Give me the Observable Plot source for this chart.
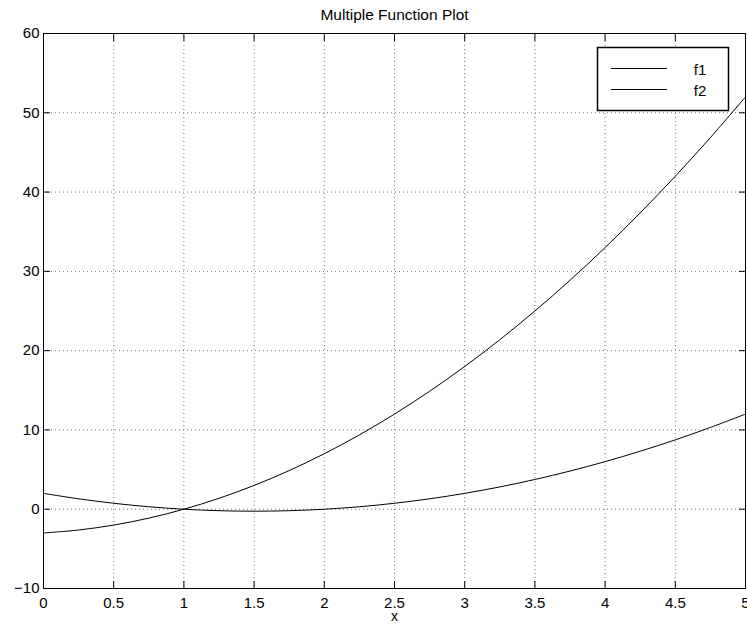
<!DOCTYPE html>
<html>
<head>
<meta charset="utf-8">
<script src="https://cdn.jsdelivr.net/npm/d3@7"></script>
<script src="https://cdn.jsdelivr.net/npm/@observablehq/plot@0.6"></script>
<style>
  html, body { margin: 0; padding: 0; background: #fff; }
  #chart { position: relative; width: 747px; height: 626px; }
  svg { font-family: "Liberation Sans", Arial, Helvetica, sans-serif; }
</style>
</head>
<body>
<div id="chart"></div>
<script>
const title = "Multiple Function Plot";
const xLabel = "x";
const seriesNames = ["f1", "f2"];
const xs = [0, 0.25, 0.5, 0.75, 1, 1.25, 1.5, 1.75, 2, 2.25, 2.5, 2.75, 3, 3.25, 3.5, 3.75, 4, 4.25, 4.5, 4.75, 5];
const f1 = [2, 1.3125, 0.75, 0.3125, 0, -0.1875, -0.25, -0.1875, 0, 0.3125, 0.75, 1.3125, 2, 2.8125, 3.75, 4.8125, 6, 7.3125, 8.75, 10.3125, 12];
const f2 = [-3, -2.625, -2, -1.125, 0, 1.375, 3, 4.875, 7, 9.375, 12, 14.875, 18, 21.375, 25, 28.875, 33, 37.375, 42, 46.875, 52];
const xTicks = [0, 0.5, 1, 1.5, 2, 2.5, 3, 3.5, 4, 4.5, 5];
const yTicks = [-10, 0, 10, 20, 30, 40, 50, 60];

const data = [];
xs.forEach((x, i) => {
  data.push({series: "f1", x, y: f1[i]});
  data.push({series: "f2", x, y: f2[i]});
});

const noLabel = () => "";
const fmt = d => (d < 0 ? "\u2212" + Math.abs(d) : String(d));
const plot = Plot.plot({
  width: 747,
  height: 626,
  marginTop: 33,
  marginBottom: 38,
  marginLeft: 43,
  marginRight: 2,
  style: {fontSize: "15px", fontFamily: "Liberation Sans, Arial, sans-serif", background: "#fff", color: "#000"},
  x: {domain: [0, 5], label: null},
  y: {domain: [-10, 60], label: null},
  marks: [
    Plot.gridX(xTicks, {stroke: "#777", strokeOpacity: 1, strokeDasharray: "1,3"}),
    Plot.gridY(yTicks, {stroke: "#777", strokeOpacity: 1, strokeDasharray: "1,3"}),
    Plot.line(data, {x: "x", y: "y", z: "series", stroke: "#000", strokeWidth: 1, curve: "catmull-rom"}),
    // inward ticks
    Plot.axisX(xTicks, {anchor: "bottom", tickSize: 7, dy: -7, tickFormat: noLabel, label: null}),
    Plot.axisX(xTicks, {anchor: "top", tickSize: 7, dy: 7, tickFormat: noLabel, label: null}),
    Plot.axisY(yTicks, {anchor: "left", tickSize: 7, dx: 7, tickFormat: noLabel, label: null}),
    Plot.axisY(yTicks, {anchor: "right", tickSize: 7, dx: -7, tickFormat: noLabel, label: null}),
    // tick labels
    Plot.axisX(xTicks, {anchor: "bottom", tickSize: 0, tickPadding: 9, label: null, fontSize: 15, tickFormat: fmt}),
    Plot.axisY(yTicks, {anchor: "left", tickSize: 0, tickPadding: 4, label: null, fontSize: 15, tickFormat: fmt}),
    Plot.frame({stroke: "#000", strokeWidth: 1}),
    Plot.text([title], {frameAnchor: "top", lineAnchor: "middle", dy: -18, fontSize: 15.5}),
    Plot.text([xLabel], {frameAnchor: "bottom", lineAnchor: "middle", dy: 28, fontSize: 14})
  ]
});

document.getElementById("chart").appendChild(plot);

// Legend
const svg = d3.select(plot);
const lg = svg.append("g").attr("class", "legend");
lg.append("rect")
  .attr("x", 597.5).attr("y", 47.5).attr("width", 131).attr("height", 63)
  .attr("fill", "#fff").attr("stroke", "#000").attr("stroke-width", 1.5);
seriesNames.forEach((name, i) => {
  const cy = 68.5 + i * 21;
  lg.append("line")
    .attr("x1", 611).attr("x2", 667).attr("y1", cy).attr("y2", cy)
    .attr("stroke", "#000").attr("stroke-width", 1);
  lg.append("text")
    .attr("x", 700).attr("y", cy + 1).attr("dy", "0.35em")
    .attr("font-size", 15).attr("fill", "#000")
    .text(name);
});
</script>
</body>
</html>
